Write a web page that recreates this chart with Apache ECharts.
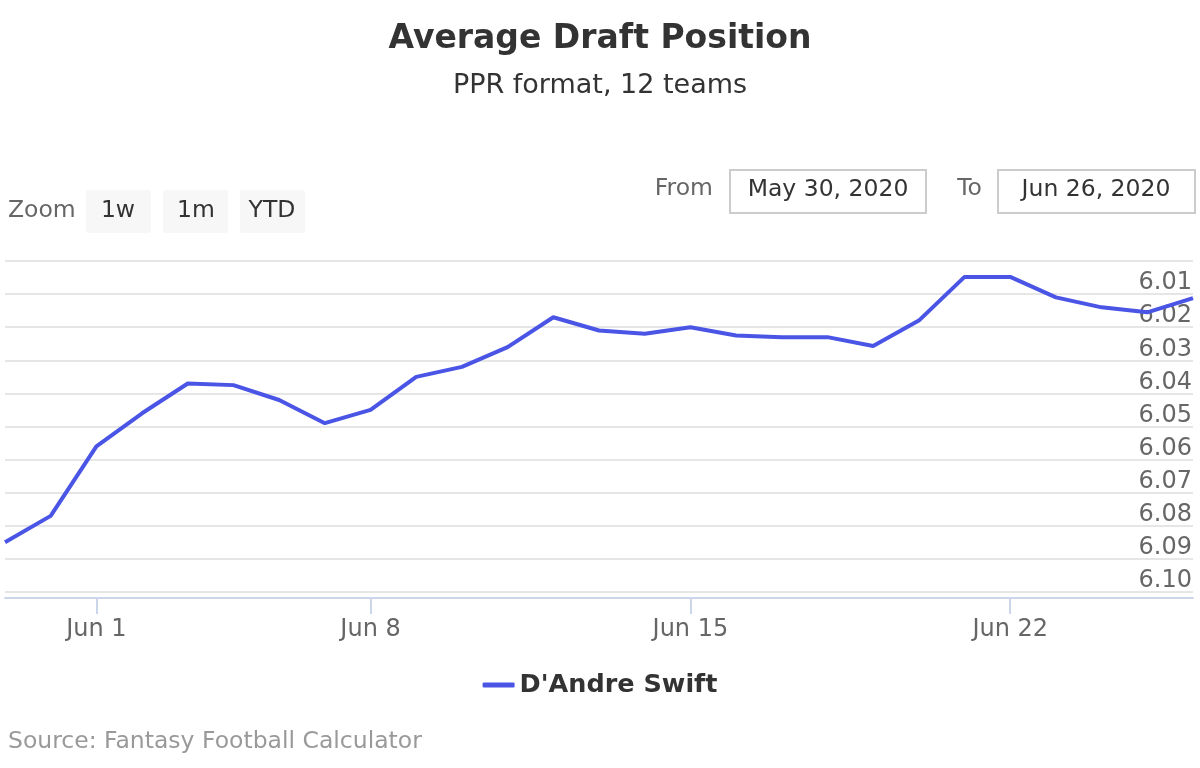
<!DOCTYPE html>
<html>
<head>
<meta charset="utf-8">
<script src="https://cdn.jsdelivr.net/npm/echarts@6/dist/echarts.min.js"></script>
<style>
html,body{margin:0;padding:0;background:#fff;}
#chart{width:1200px;height:768px;}
</style>
</head>
<body>
<div id="chart"></div>
<script>
var dates = ['May 30','May 31','Jun 1','Jun 2','Jun 3','Jun 4','Jun 6','Jun 7','Jun 8','Jun 9','Jun 10','Jun 11','Jun 12','Jun 13','Jun 14','Jun 15','Jun 16','Jun 17','Jun 18','Jun 19','Jun 20','Jun 21','Jun 22','Jun 23','Jun 24','Jun 25','Jun 26'];
var adp = [6.085,6.077,6.056,6.046,6.037,6.0375,6.042,6.049,6.045,6.035,6.032,6.026,6.017,6.021,6.022,6.020,6.0225,6.023,6.023,6.0257,6.018,6.0048,6.0048,6.011,6.014,6.0155,6.0112];
var tickDates = ['Jun 1','Jun 8','Jun 15','Jun 22'];
var seriesName = "D'Andre Swift";

var FONT = '"DejaVu Sans", sans-serif';
var FS = 23.5;
var chart = echarts.init(document.getElementById('chart'));
var showTick = function (idx, val) { return tickDates.indexOf(val) !== -1; };

chart.setOption({
  animation: false,
  textStyle: { fontFamily: FONT },
  title: [
    { text: 'Average Draft Position', left: 'center', top: 18,
      textStyle: { fontSize: 33, fontWeight: 'bold', color: '#333', fontFamily: FONT } },
    { text: 'PPR format, 12 teams', left: 'center', top: 67,
      textStyle: { fontSize: 27, fontWeight: 'normal', color: '#333', fontFamily: FONT } }
  ],
  legend: {
    top: 667, left: 'center',
    icon: 'roundRect', itemWidth: 32, itemHeight: 5, itemGap: 12,
    textStyle: { fontSize: 25.5, fontWeight: 'bold', color: '#333', fontFamily: FONT },
    data: [seriesName]
  },
  grid: { left: 5, right: 7, top: 261, bottom: 176, containLabel: false },
  xAxis: {
    type: 'category', data: dates, boundaryGap: false, offset: 6,
    axisLine: { lineStyle: { color: '#ccd6eb', width: 2 } },
    axisTick: { interval: showTick, length: 16, lineStyle: { color: '#ccd6eb', width: 2 } },
    axisLabel: { interval: showTick, color: '#666', fontSize: 24, margin: 20, fontFamily: FONT },
    splitLine: { show: false }
  },
  yAxis: {
    type: 'value', inverse: true, min: 6.00, max: 6.10, interval: 0.01, position: 'right',
    axisLine: { show: false }, axisTick: { show: false },
    axisLabel: {
      inside: true, showMinLabel: false, color: '#666', fontSize: 24, margin: 1,
      verticalAlign: 'bottom', lineHeight: 22, fontFamily: FONT,
      formatter: function (v) { return v.toFixed(2); }
    },
    splitLine: { lineStyle: { color: '#e6e6e6', width: 2 } }
  },
  series: [{
    name: seriesName, type: 'line', data: adp, symbol: 'none', smooth: false,
    itemStyle: { color: '#4a55e6' },
    lineStyle: { color: '#4a55e6', width: 4 }
  }],
  graphic: [
    { type: 'text', x: 8, y: 211, style: { text: 'Zoom', fontSize: FS, fill: '#666', verticalAlign: 'middle', fontFamily: FONT } },
    { type: 'rect', shape: { x: 86, y: 190, width: 65, height: 43, r: 2 }, style: { fill: '#f7f7f7' } },
    { type: 'rect', shape: { x: 163, y: 190, width: 65, height: 43, r: 2 }, style: { fill: '#f7f7f7' } },
    { type: 'rect', shape: { x: 240, y: 190, width: 65, height: 43, r: 2 }, style: { fill: '#f7f7f7' } },
    { type: 'text', x: 118, y: 211, style: { text: '1w', fontSize: FS, fill: '#333', align: 'center', verticalAlign: 'middle', fontFamily: FONT } },
    { type: 'text', x: 196, y: 211, style: { text: '1m', fontSize: FS, fill: '#333', align: 'center', verticalAlign: 'middle', fontFamily: FONT } },
    { type: 'text', x: 272, y: 211, style: { text: 'YTD', fontSize: FS, fill: '#333', align: 'center', verticalAlign: 'middle', fontFamily: FONT } },
    { type: 'text', x: 713, y: 189, style: { text: 'From', fontSize: FS, fill: '#666', align: 'right', verticalAlign: 'middle', fontFamily: FONT } },
    { type: 'rect', shape: { x: 730, y: 170, width: 196, height: 43 }, style: { fill: '#fff', stroke: '#cccccc', lineWidth: 2 } },
    { type: 'text', x: 828, y: 190, style: { text: 'May 30, 2020', fontSize: FS, fill: '#333', align: 'center', verticalAlign: 'middle', fontFamily: FONT } },
    { type: 'text', x: 982, y: 189, style: { text: 'To', fontSize: FS, fill: '#666', align: 'right', verticalAlign: 'middle', fontFamily: FONT } },
    { type: 'rect', shape: { x: 998, y: 170, width: 197, height: 43 }, style: { fill: '#fff', stroke: '#cccccc', lineWidth: 2 } },
    { type: 'text', x: 1096, y: 190, style: { text: 'Jun 26, 2020', fontSize: FS, fill: '#333', align: 'center', verticalAlign: 'middle', fontFamily: FONT } },
    { type: 'text', x: 8, y: 742, style: { text: 'Source: Fantasy Football Calculator', fontSize: FS, fill: '#999', verticalAlign: 'middle', fontFamily: FONT } }
  ]
});
</script>
</body>
</html>
